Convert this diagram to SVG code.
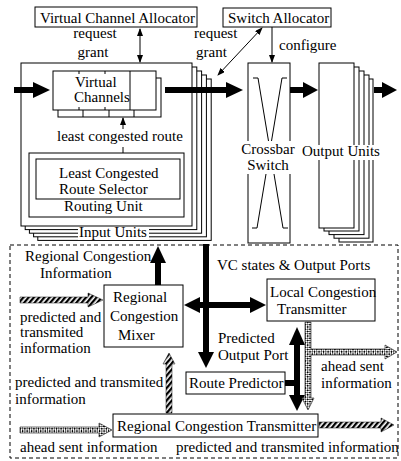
<svg xmlns="http://www.w3.org/2000/svg" width="401" height="461" viewBox="0 0 401 461">
<defs>
<style>
text{font-family:"Liberation Serif","Times New Roman",serif;font-size:15px;fill:#000}
.box{fill:#fff;stroke:#000;stroke-width:1}
.thin{fill:none;stroke:#000;stroke-width:1}
.blk{fill:#000;stroke:none}
.wb{fill:#fff;stroke:none}
.str{fill:url(#stripes);stroke:#111;stroke-width:0.5}
.chk{fill:url(#checks);stroke:#333;stroke-width:0.7}
</style>
<pattern id="stripes" width="4" height="4" patternUnits="userSpaceOnUse" patternTransform="rotate(40)">
<rect width="4" height="4" fill="#fff"/>
<rect width="2.3" height="4" fill="#000"/>
</pattern>
<pattern id="checks" width="3.2" height="3.2" patternUnits="userSpaceOnUse" patternTransform="rotate(45)">
<rect width="3.2" height="3.2" fill="#fff"/>
<rect width="1.6" height="1.6" fill="#000"/>
<rect x="1.6" y="1.6" width="1.6" height="1.6" fill="#555"/>
</pattern>
<marker id="ah" markerWidth="8" markerHeight="6" refX="7" refY="3" orient="auto-start-reverse" markerUnits="userSpaceOnUse">
<path d="M0,0 L8,3 L0,6 Z" fill="#000"/>
</marker>
</defs>
<rect width="401" height="461" fill="#fff"/>

<g id="region">
<rect x="10" y="245" width="388" height="213" fill="none" stroke="#000" stroke-width="1" stroke-dasharray="4 3"/>
</g>

<g id="vc-allocator">
<rect class="box" x="35" y="7" width="162" height="20"/>
<text x="40" y="23">Virtual Channel Allocator</text>
</g>

<g id="switch-allocator">
<rect class="box" x="223" y="8" width="108" height="19"/>
<text x="228" y="23">Switch Allocator</text>
</g>

<g id="input-units">
<rect class="box" x="37.8" y="79" width="173.4" height="161.4"/>
<rect class="box" x="33.6" y="75" width="172.8" height="161.8"/>
<rect class="box" x="29.4" y="71" width="172.2" height="162.2"/>
<rect class="box" x="25.2" y="67" width="171.6" height="162.6"/>
<rect class="box" x="21" y="63" width="171" height="163"/>
<rect class="wb" x="78" y="227" width="71" height="13"/>
<text x="79" y="237">Input Units</text>
</g>

<g id="virtual-channels">
<rect class="box" x="58" y="78" width="103" height="39"/>
<line class="thin" x1="83" y1="110" x2="83" y2="117"/>
<line class="thin" x1="109" y1="110" x2="109" y2="117"/>
<line class="thin" x1="134" y1="110" x2="134" y2="117"/>
<rect class="box" x="53" y="71" width="103" height="39"/>
<line class="thin" x1="130" y1="71" x2="130" y2="110"/>
<line class="thin" x1="79" y1="71" x2="79" y2="74"/>
<line class="thin" x1="105" y1="71" x2="105" y2="74"/>
<line class="thin" x1="79" y1="107" x2="79" y2="110"/>
<line class="thin" x1="105" y1="107" x2="105" y2="110"/>
<text x="75" y="87">Virtual</text>
<text x="74" y="102">Channels</text>
</g>

<g id="routing-unit">
<rect class="box" x="29" y="153" width="155" height="64"/>
<rect class="box" x="36" y="159" width="144" height="40"/>
<text x="59" y="178">Least Congested</text>
<text x="59" y="194">Route Selector</text>
<text x="64" y="211">Routing Unit</text>
</g>

<g id="crossbar">
<rect class="box" x="248" y="63" width="42" height="180"/>
<polyline class="thin" points="253,78 258,78 283,228 288,228"/>
<polyline class="thin" points="287,78 282,78 257,228 252,228"/>
<rect class="wb" x="242" y="141" width="54" height="33"/>
<text x="268" y="154" text-anchor="middle">Crossbar</text>
<text x="268" y="170" text-anchor="middle">Switch</text>
</g>

<g id="output-units">
<rect class="box" x="339" y="79" width="34" height="163"/>
<rect class="box" x="334" y="75" width="35" height="163.2"/>
<rect class="box" x="329" y="71" width="35" height="163.6"/>
<rect class="box" x="324" y="67" width="35" height="164"/>
<rect class="box" x="319" y="63" width="35" height="165"/>
<rect class="wb" x="301" y="145" width="81" height="15"/>
<text x="341" y="156" text-anchor="middle">Output Units</text>
</g>

<g id="mixer">
<rect class="box" x="104" y="285" width="79" height="62"/>
<text x="113" y="302">Regional</text>
<text x="110" y="321">Congestion</text>
<text x="118" y="340">Mixer</text>
</g>

<g id="local-transmitter">
<rect class="box" x="267" y="279" width="108" height="42"/>
<text x="270" y="297">Local Congestion</text>
<text x="277" y="314">Transmitter</text>
</g>

<g id="route-predictor">
<rect class="box" x="186" y="372" width="99" height="22"/>
<text x="189" y="388">Route Predictor</text>
</g>

<g id="regional-transmitter">
<rect class="box" x="113" y="414" width="205" height="23"/>
<text x="117" y="431">Regional Congestion Transmitter</text>
</g>

<g id="connectors">
<rect class="blk" x="14" y="87" width="21" height="6"/>
<polygon class="blk" points="33,82 50,90 33,98"/>
<rect class="blk" x="165" y="87" width="63" height="6"/>
<polygon class="blk" points="226,82 243,90 226,98"/>
<rect class="blk" x="290" y="87" width="15" height="6"/>
<polygon class="blk" points="303,82 318,90 303,98"/>
<rect class="blk" x="374" y="87" width="10" height="6"/>
<polygon class="blk" points="382,82 397,90 382,98"/>

<line class="thin" x1="140" y1="29" x2="140" y2="62" marker-start="url(#ah)" marker-end="url(#ah)"/>
<line class="thin" x1="262" y1="28" x2="218" y2="75" marker-start="url(#ah)" marker-end="url(#ah)"/>
<line class="thin" x1="272" y1="27" x2="272" y2="62" marker-end="url(#ah)"/>
<line class="thin" x1="123" y1="147" x2="123" y2="153"/>
<line class="thin" x1="123" y1="129" x2="123" y2="118" marker-end="url(#ah)"/>
<text x="57" y="141">least congested route</text>
<text x="95" y="38" text-anchor="middle">request</text>
<text x="93" y="57" text-anchor="middle">grant</text>
<text x="194" y="38">request</text>
<text x="196" y="57">grant</text>
<text x="279" y="50">configure</text>

<rect class="blk" x="155" y="261" width="6" height="24"/>
<polygon class="blk" points="150,263 158,246 166,263"/>
<rect class="blk" x="203" y="244" width="6" height="110"/>
<polygon class="blk" points="198,352 206,368 214,352"/>
<rect class="blk" x="198" y="302" width="54" height="6"/>
<polygon class="blk" points="200,297 184,305 200,313"/>
<polygon class="blk" points="250,297 266,305 250,313"/>
<rect class="blk" x="294" y="343" width="6" height="54"/>
<polygon class="blk" points="289,345 297,327 305,345"/>
<polygon class="blk" points="289,395 297,411 305,395"/>
<rect class="blk" x="285" y="380" width="10" height="6"/>

<polygon class="str" points="20,297 88,297 88,293 103,300 88,307 88,303 20,303"/>
<polygon class="str" points="166,413 166,364 163,364 169,353 175,364 172,364 172,413"/>
<polygon class="str" points="319,422 381,422 381,418 394,425 381,432 381,428 319,428"/>
<polygon class="chk" points="20,427 99,427 99,423 112,430 99,437 99,433 20,433"/>
<polygon class="chk" points="305,322 311,322 311,349 385,349 385,345 397,352 385,359 385,355 311,355 311,398 314,398 308,410 302,398 305,398"/>

<text x="25" y="261">Regional Congestion</text>
<text x="40" y="278">Information</text>
<text x="217" y="270">VC states &amp; Output Ports</text>
<text x="20" y="322">predicted and</text>
<text x="20" y="337">transmited</text>
<text x="20" y="353">information</text>
<text x="218" y="343">Predicted</text>
<text x="218" y="360">Output Port</text>
<text x="321" y="371">ahead sent</text>
<text x="321" y="388">information</text>
<text x="15" y="387">predicted and transmited</text>
<text x="15" y="404">information</text>
<text x="20" y="452">ahead sent information</text>
<text x="176" y="452">predicted and transmited information</text>
</g>
</svg>
